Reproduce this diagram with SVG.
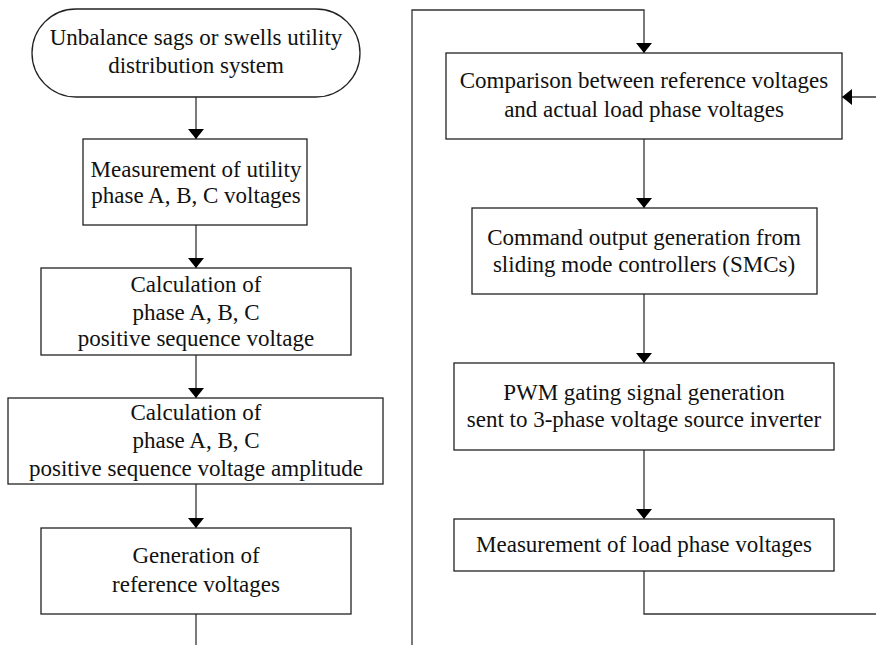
<svg xmlns="http://www.w3.org/2000/svg" width="876" height="645" viewBox="0 0 876 645">
<defs>
<marker id="ah" viewBox="0 0 10 16" refX="10" refY="8" markerWidth="10" markerHeight="16" markerUnits="userSpaceOnUse" orient="auto">
<path d="M0,0 L10,8 L0,16 Z" fill="#000"/>
</marker>
<style>
.box{fill:#fff;stroke:#222;stroke-width:1.3}
.t{font-size:23px;fill:#111;text-anchor:middle}
.c{fill:none;stroke:#333;stroke-width:1.3}
</style>
</defs>
<rect width="876" height="645" fill="#fff"/>
<g id="connectors">
<line class="c" x1="196" y1="97" x2="196" y2="139" marker-end="url(#ah)"/>
<line class="c" x1="196" y1="225" x2="196" y2="268" marker-end="url(#ah)"/>
<line class="c" x1="196" y1="355" x2="196" y2="398" marker-end="url(#ah)"/>
<line class="c" x1="196" y1="484" x2="196" y2="528" marker-end="url(#ah)"/>
<line class="c" x1="196" y1="614" x2="196" y2="645"/>
<polyline class="c" points="412,645 412,10 644,10 644,53" marker-end="url(#ah)"/>
<line class="c" x1="876" y1="97" x2="842" y2="97" marker-end="url(#ah)"/>
<line class="c" x1="644" y1="139" x2="644" y2="208" marker-end="url(#ah)"/>
<line class="c" x1="644" y1="294" x2="644" y2="363" marker-end="url(#ah)"/>
<line class="c" x1="644" y1="450" x2="644" y2="519" marker-end="url(#ah)"/>
<polyline class="c" points="644,571 644,614 876,614"/>
</g>
<g font-family="Liberation Serif, Times New Roman, DejaVu Serif, serif">
<g id="start">
<rect class="box" x="32" y="9" width="328" height="88" rx="44" ry="44"/>
<text class="t" x="196" y="45">Unbalance sags or swells utility</text>
<text class="t" x="196" y="73">distribution system</text>
</g>
<g id="measure-utility">
<rect class="box" x="83" y="139" width="224" height="86"/>
<text class="t" x="196" y="177">Measurement of utility</text>
<text class="t" x="196" y="203">phase A, B, C voltages</text>
</g>
<g id="calc-positive">
<rect class="box" x="41" y="268" width="310" height="87"/>
<text class="t" x="196" y="292">Calculation of</text>
<text class="t" x="196" y="320">phase A, B, C</text>
<text class="t" x="196" y="346">positive sequence voltage</text>
</g>
<g id="calc-amplitude">
<rect class="box" x="8" y="398" width="375" height="86"/>
<text class="t" x="196" y="420">Calculation of</text>
<text class="t" x="196" y="448">phase A, B, C</text>
<text class="t" x="196" y="476">positive sequence voltage amplitude</text>
</g>
<g id="gen-reference">
<rect class="box" x="41" y="528" width="310" height="86"/>
<text class="t" x="196" y="563">Generation of</text>
<text class="t" x="196" y="592">reference voltages</text>
</g>
<g id="comparison">
<rect class="box" x="446" y="53" width="396" height="86"/>
<text class="t" x="644" y="88">Comparison between reference voltages</text>
<text class="t" x="644" y="117">and actual load phase voltages</text>
</g>
<g id="smc">
<rect class="box" x="472" y="208" width="345" height="86"/>
<text class="t" x="644" y="245">Command output generation from</text>
<text class="t" x="644" y="272">sliding mode controllers (SMCs)</text>
</g>
<g id="pwm">
<rect class="box" x="454" y="363" width="380" height="87"/>
<text class="t" x="644" y="400">PWM gating signal generation</text>
<text class="t" x="644" y="427">sent to 3-phase voltage source inverter</text>
</g>
<g id="measure-load">
<rect class="box" x="454" y="519" width="380" height="52"/>
<text class="t" x="644" y="552">Measurement of load phase voltages</text>
</g>
</g>
</svg>
